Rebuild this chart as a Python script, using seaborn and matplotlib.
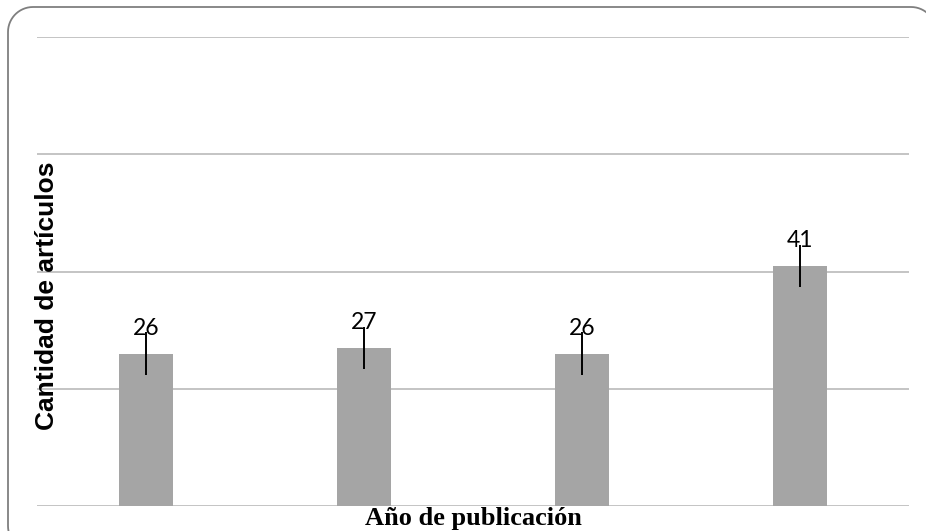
import matplotlib
matplotlib.use("Agg")
import matplotlib.pyplot as plt
from matplotlib.patches import PathPatch
from matplotlib.path import Path
import numpy as np
import pandas as pd
import seaborn as sns

# Articles per publication period (tick labels are not shown on the chart)
periodos = ["P1", "P2", "P3", "P4"]
articulos = [26, 27, 26, 41]
error = [3.6, 3.6, 3.6, 3.6]
y_ticks = [0, 20, 40, 60, 80]

df = pd.DataFrame({"periodo": periodos, "articulos": articulos})

sns.set_style("white")

fig = plt.figure(figsize=(9.26, 5.31), dpi=100)
ax = fig.add_axes([37 / 926, 1 - 506 / 531, (909 - 37) / 926, (506 - 37) / 531])

sns.barplot(data=df, x="periodo", y="articulos", color="#a5a5a5",
            width=0.25, saturation=1, errorbar=None, linewidth=0,
            ax=ax, zorder=3)

# vertical error lines centred on each bar top
xpos = np.arange(len(periodos))
ax.errorbar(xpos, articulos, yerr=error, fmt="none", ecolor="black",
            elinewidth=1.4, capsize=0, zorder=4)

for x, v in zip(xpos, articulos):
    ax.annotate(f"{v}", xy=(x, v), xytext=(0, 13.5), textcoords="offset points",
                ha="center", va="baseline", fontsize=16.5, family="Lato",
                color="black", zorder=5)

ax.set_ylim(0, 80)
ax.set_xlim(-0.5, len(periodos) - 0.5)
ax.set_yticks(y_ticks)
ax.yaxis.grid(True, color="#bfbfbf", linewidth=1.3)
ax.set_axisbelow(True)
ax.tick_params(left=False, bottom=False, labelleft=False, labelbottom=False)
for s in ax.spines.values():
    s.set_visible(False)

ax.set_xlabel("")
ax.set_ylabel("")
fig.text(473 / 926, 1 - 519 / 531, "Año de publicación", ha="center", va="center",
         fontsize=19, fontweight="bold", family="Liberation Serif", color="black")
fig.text(47 / 926, 1 - 296 / 531, "Cantidad de artículos", ha="center", va="center",
         rotation=90, fontsize=19, fontweight="bold", family="Liberation Sans",
         color="black")


def rounded_rect(x0, y0, x1, y1, r, n=16):
    """Closed rounded-rectangle outline in inches."""
    pts = []
    corners = [(x1 - r, y1 - r, 0), (x0 + r, y1 - r, 90),
               (x0 + r, y0 + r, 180), (x1 - r, y0 + r, 270)]
    for cx, cy, a0 in corners:
        t = np.radians(np.linspace(a0, a0 + 90, n))
        pts.extend(zip(cx + r * np.cos(t), cy + r * np.sin(t)))
    pts.append(pts[0])
    return Path(np.array(pts))


# chart-area frame, running past the right and bottom edges
frame = PathPatch(rounded_rect(0.08, -0.20, 9.36, 5.24, 0.25),
                  transform=fig.dpi_scale_trans, facecolor="none",
                  edgecolor="#7f7f7f", linewidth=1.3, zorder=10)
fig.add_artist(frame)

fig.savefig("out.png", dpi=100, facecolor="white")
